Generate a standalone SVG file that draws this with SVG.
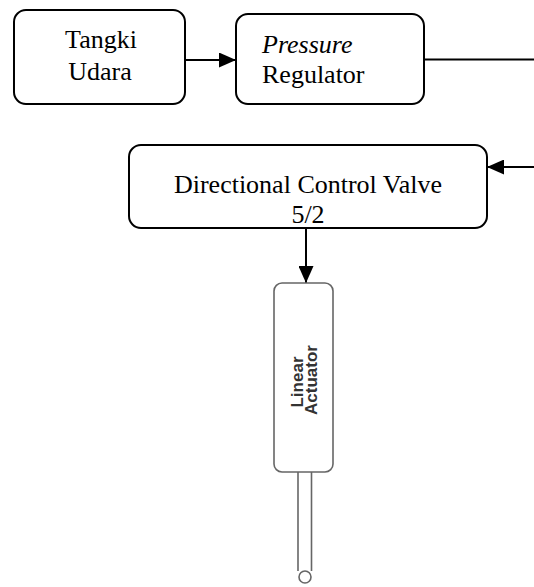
<svg xmlns="http://www.w3.org/2000/svg" width="534" height="587" viewBox="0 0 534 587">
<style>
.box{fill:#fff;stroke:#000;stroke-width:2}
.lbl{font-family:"Liberation Serif","Times New Roman",serif;font-size:26px;fill:#000}
.conn{stroke:#000;stroke-width:2;fill:none}
.act{fill:#fff;stroke:#666;stroke-width:1.6}
.actt{font-family:"Liberation Sans",Arial,sans-serif;font-size:17px;font-weight:bold;fill:#333;text-anchor:middle}
</style>
<defs>
<marker id="ah" markerWidth="17" markerHeight="15" refX="17" refY="7.5" orient="auto" markerUnits="userSpaceOnUse">
<path d="M0,0 L17,7.5 L0,15 Z" fill="#000"/>
</marker>
</defs>
<rect width="534" height="587" fill="#fff"/>
<g id="connectors">
<line class="conn" x1="185" y1="60" x2="236" y2="60" marker-end="url(#ah)"/>
<line class="conn" x1="424" y1="59.5" x2="534" y2="59.5"/>
<line class="conn" x1="534" y1="167" x2="487" y2="167" marker-end="url(#ah)"/>
<line class="conn" x1="306" y1="228" x2="306" y2="283" marker-end="url(#ah)"/>
</g>
<g id="tangki">
<rect class="box" x="14" y="10" width="171" height="94" rx="12"/>
<text class="lbl" x="101" y="48" text-anchor="middle">Tangki</text>
<text class="lbl" x="100" y="80" text-anchor="middle">Udara</text>
</g>
<g id="regulator">
<rect class="box" x="236" y="14" width="188" height="90" rx="12"/>
<text class="lbl" x="262" y="53" font-style="italic">Pressure</text>
<text class="lbl" x="262" y="83">Regulator</text>
</g>
<g id="dcv">
<rect class="box" x="129" y="145" width="358" height="83" rx="12"/>
<text class="lbl" x="308" y="193" text-anchor="middle">Directional Control Valve</text>
<text class="lbl" x="308" y="223" text-anchor="middle">5/2</text>
</g>
<g id="actuator">
<rect class="act" x="274" y="283" width="59" height="189" rx="8"/>
<text class="actt" transform="translate(302.5,382) rotate(-90)">Linear</text>
<text class="actt" transform="translate(317,380) rotate(-90)">Actuator</text>
<line x1="298" y1="472" x2="298" y2="571" stroke="#666" stroke-width="1.6"/>
<line x1="311.5" y1="472" x2="311.5" y2="571" stroke="#666" stroke-width="1.6"/>
<circle cx="305" cy="577" r="6" fill="#fff" stroke="#666" stroke-width="1.6"/>
</g>
</svg>
